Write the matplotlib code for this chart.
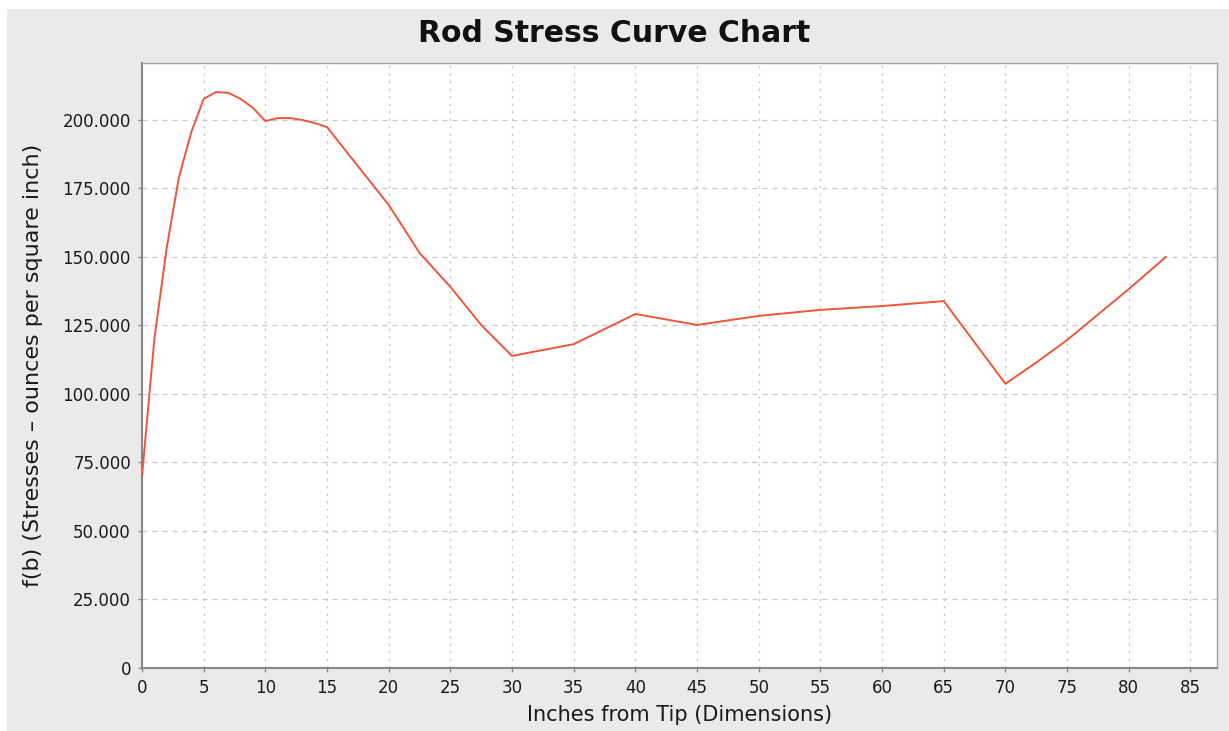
import matplotlib
matplotlib.use("Agg")
import matplotlib.pyplot as plt
from matplotlib.patches import Rectangle
from matplotlib.ticker import FuncFormatter

# Data
inches = [0, 1, 2, 3, 4, 5, 6, 7, 8, 9, 10, 11, 12, 13, 14, 15,
          20, 22.5, 25, 27.5, 30, 35, 40, 45, 50, 55, 60, 65,
          70, 72.5, 75, 77.5, 80, 83]
stress = [70000, 120000, 153300, 179200, 195600, 207700, 210200, 209900,
          207700, 204400, 199600, 200700, 200700, 200000, 198900, 197400,
          169000, 151500, 139100, 125200, 113900, 118200, 129200, 125200,
          128500, 130700, 132100, 133900,
          103700, 111500, 119700, 129000, 138300, 150000]

x_ticks = list(range(0, 90, 5))
y_ticks = list(range(0, 225000, 25000))

title = "Rod Stress Curve Chart"
x_label = "Inches from Tip (Dimensions)"
y_label = "f(b) (Stresses \u2013 ounces per square inch)"

W, H = 1229, 731
fig = plt.figure(figsize=(W / 100, H / 100), dpi=100)
fig.patch.set_facecolor("white")
fig.patches.append(Rectangle((7 / W, -0.01), 1.1, 1.01 - 9 / H, transform=fig.transFigure,
                             facecolor="#eaeaea", edgecolor="none", zorder=-10))

ax = fig.add_axes([142 / W, 1 - 668 / H, (1217 - 142) / W, (668 - 63) / H])
ax.set_facecolor("white")

ax.plot(inches, stress, color="#f0553a", linewidth=1.4, zorder=3)

ax.set_xlim(0, 87.15)
ax.set_ylim(0, 220800)
ax.set_yticks(y_ticks)
ax.set_xticks(x_ticks)


def fmt_thousands(v, pos):
    v = int(round(v))
    return f"{v:,}".replace(",", ".")


ax.yaxis.set_major_formatter(FuncFormatter(fmt_thousands))

ax.grid(True, axis="y", color="#c8c8c8", linestyle=(0, (4, 4)), linewidth=0.9)
ax.grid(True, axis="x", color="#c8c8c8", linestyle=(0, (2, 4)), linewidth=0.9)

for side in ["top", "right"]:
    ax.spines[side].set_color("#a0a0a0")
    ax.spines[side].set_linewidth(1.0)
for side in ["left", "bottom"]:
    ax.spines[side].set_color("#888888")
    ax.spines[side].set_linewidth(1.5)

ax.tick_params(axis="both", direction="out", length=3, width=1, color="#888888",
               labelsize=12, labelcolor="#1a1a1a")
ax.tick_params(axis="x", pad=5)
ax.tick_params(axis="y", pad=5)

ax.set_xlabel(x_label, fontsize=15, color="#1a1a1a", labelpad=6)
ax.set_ylabel(y_label, fontsize=16, color="#1a1a1a", labelpad=14)

fig.text(0.5, 1 - 33 / H, title, ha="center", va="center",
         fontsize=21.5, fontweight="bold", color="#111111")

fig.savefig("out.png", dpi=100, facecolor=fig.get_facecolor())
